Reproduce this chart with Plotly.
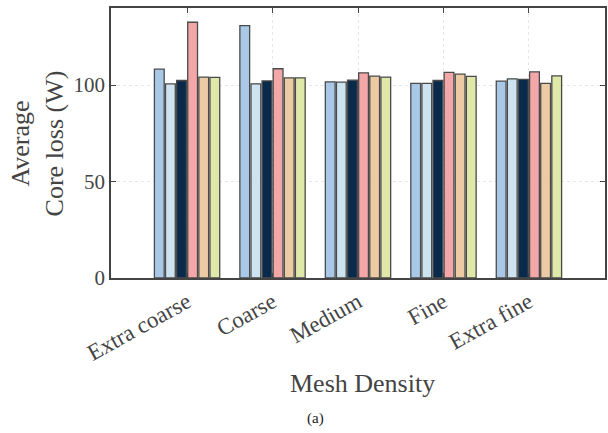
import plotly.graph_objects as go

categories = ["Extra coarse", "Coarse", "Medium", "Fine", "Extra fine"]
series_names = ["S1", "S2", "S3", "S4", "S5", "S6"]
values = [
    [108.3, 130.9, 101.7, 100.9, 102.1],
    [100.7, 100.7, 101.6, 100.9, 103.3],
    [102.4, 102.2, 102.6, 102.4, 103.0],
    [132.6, 108.5, 106.4, 106.6, 106.9],
    [104.2, 103.8, 104.7, 105.7, 100.9],
    [104.0, 103.8, 104.2, 104.5, 104.8],
]
colors = ["#a9c8e8", "#cde3ef", "#0a2a4b", "#f4a7a9", "#eccaa3", "#dfe8a8"]
y_ticks = [0, 50, 100]

fig = go.Figure()
for name, vals, col in zip(series_names, values, colors):
    fig.add_trace(go.Bar(
        x=list(range(len(categories))), y=vals, name=name,
        marker=dict(color=col, line=dict(color="#4a4a4a", width=1.3)),
    ))

font_family = "Liberation Serif, Times New Roman, serif"
text_color = "#444444"
fig.update_layout(
    width=608, height=433, autosize=False,
    paper_bgcolor="white", plot_bgcolor="white",
    margin=dict(l=111, r=3, t=8, b=155, autoexpand=False),
    barmode="group", bargap=0.22, bargroupgap=0.12,
    showlegend=False,
    font=dict(family=font_family, color=text_color),
)
fig.update_xaxes(
    range=[-0.89, 4.89], automargin=False,
    tickmode="array", tickvals=list(range(len(categories))), ticktext=categories,
    tickangle=-29, tickfont=dict(size=23, family=font_family, color=text_color),
    showline=True, linecolor="#444444", linewidth=1.5, mirror="ticks",
    ticks="inside", ticklen=5, tickcolor="#444444",
    showgrid=True, gridcolor="#e6e6e6", griddash="dot", gridwidth=1,
    zeroline=False,
)
fig.update_yaxes(
    range=[0, 140], automargin=False,
    tickmode="array", tickvals=y_ticks, ticktext=[str(t) for t in y_ticks],
    tickfont=dict(size=21, family=font_family, color=text_color),
    showline=True, linecolor="#444444", linewidth=1.5, mirror="ticks",
    ticks="inside", ticklen=5, tickcolor="#444444",
    showgrid=True, gridcolor="#e6e6e6", griddash="dot", gridwidth=1,
    zeroline=False,
)
fig.add_annotation(
    text="Average<br>Core loss (W)", xref="paper", yref="paper",
    x=-0.149, y=0.5, xanchor="center", yanchor="middle", textangle=-90,
    showarrow=False, font=dict(size=26, family=font_family, color=text_color),
)
fig.add_annotation(
    text="Mesh Density", xref="paper", yref="paper",
    x=0.509, y=-0.389, xanchor="center", yanchor="middle",
    showarrow=False, font=dict(size=26, family=font_family, color=text_color),
)
fig.add_annotation(
    text="(a)", xref="paper", yref="paper",
    x=0.413, y=-0.522, xanchor="center", yanchor="middle",
    showarrow=False, font=dict(size=15, family=font_family, color="#222222"),
)

fig.write_html(
    "out.html",
    config={"responsive": False, "displayModeBar": False},
    post_script="document.body.style.margin='0';document.body.style.overflow='hidden';",
)
